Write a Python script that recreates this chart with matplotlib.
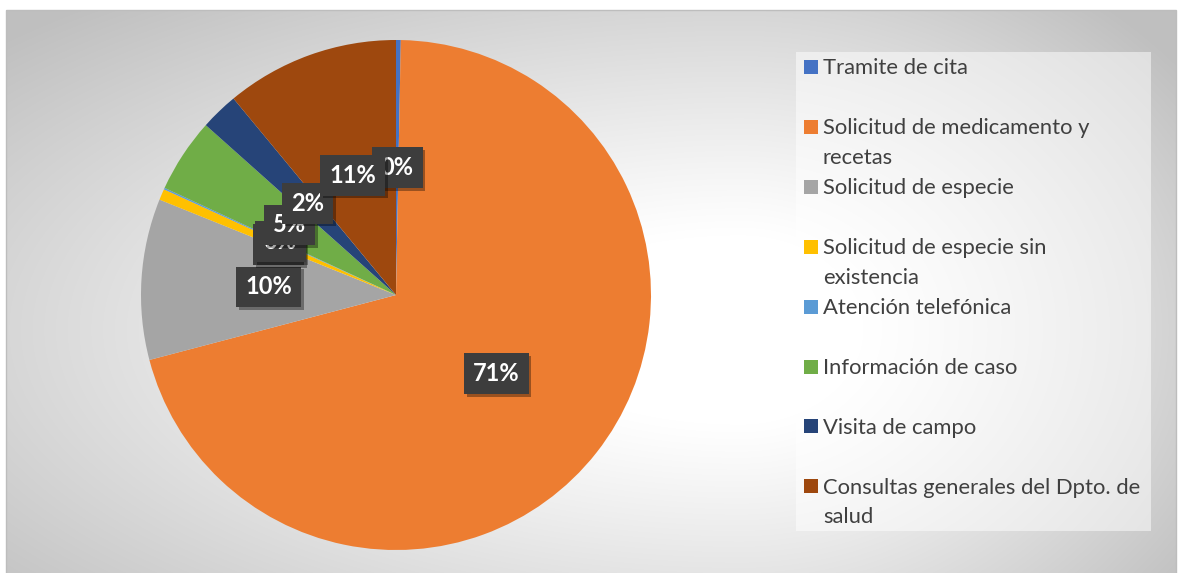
import numpy as np
import matplotlib
matplotlib.use("Agg")
import matplotlib.pyplot as plt
from matplotlib.patches import Rectangle
import matplotlib.patheffects as pe

# ---- data ----
categories = [
    "Tramite de cita",
    "Solicitud de medicamento y\nrecetas",
    "Solicitud de especie",
    "Solicitud de especie sin\nexistencia",
    "Atención telefónica",
    "Información de caso",
    "Visita de campo",
    "Consultas generales del Dpto. de\nsalud",
]
shares = [0.3, 70.6, 10.2, 0.7, 0.1, 4.7, 2.4, 11.0]
colors = ["#4472C4", "#ED7D31", "#A5A5A5", "#FFC000",
          "#5B9BD5", "#70AD47", "#264478", "#9E480E"]

W, H = 1182, 573
fig = plt.figure(figsize=(W / 100, H / 100), dpi=100)
fig.patch.set_facecolor("white")

# ---- background (pixel coordinates, y down) ----
bg = fig.add_axes([0, 0, 1, 1])
bg.set_xlim(0, W)
bg.set_ylim(H, 0)
bg.axis("off")

x0, x1, y0, y1 = 6, 1176, 10, 573
xx, yy = np.meshgrid(np.arange(x0, x1) + 0.5, np.arange(y0, y1) + 0.5)
cx, cy = 740, 330
axl, axr, ay = 1000, 560, 430
sx = np.where(xx < cx, (xx - cx) / axl, (xx - cx) / axr)
d = np.sqrt(sx ** 2 + ((yy - cy) / ay) ** 2)
t = np.clip((d - 0.22) / 0.78, 0, 1) ** 1.1
v = 1.0 - t * (1.0 - 0.75)
img = np.dstack([v, v, v])
bg.imshow(img, extent=(x0, x1, y1, y0), aspect="auto", interpolation="bilinear", zorder=0)
bg.add_patch(Rectangle((x0, y0), x1 - x0, y1 - y0 + 5, fill=False,
                       edgecolor="#bdbdbd", linewidth=1.0, zorder=1))

# ---- pie ----
pcx, pcy, R = 396, 295, 255
pax = fig.add_axes([(pcx - R) / W, (H - pcy - R) / H, 2 * R / W, 2 * R / H])
wedges, texts, autotexts = pax.pie(
    shares, colors=colors, startangle=90, counterclock=False,
    autopct="%.0f%%", pctdistance=0.5, radius=1.0,
    wedgeprops=dict(linewidth=0),
    textprops=dict(color="white", fontsize=17, fontweight="bold", family="Lato"),
)
pax.set_xlim(-1, 1)
pax.set_ylim(-1, 1)
pax.set_aspect("equal")
pax.axis("off")
for at in autotexts:
    at.set_bbox(dict(boxstyle="square,pad=0.38", facecolor="#3d3d3d", edgecolor="none"))
    at.get_bbox_patch().set_path_effects([
        pe.SimplePatchShadow(offset=(2, -2), shadow_rgbFace="black", alpha=0.35),
        pe.Normal()])

# ---- legend ----
bg.add_patch(Rectangle((796, 52), 355, 479, facecolor="white", alpha=0.5,
                       edgecolor="none", zorder=2))
first_y = 67
slot = 59.9
line_h = 29.5
for i, (lab, col) in enumerate(zip(categories, colors)):
    yc = first_y + i * slot
    bg.add_patch(Rectangle((804, yc - 7), 14, 14, facecolor=col, edgecolor="none", zorder=3))
    for j, line in enumerate(lab.split("\n")):
        bg.text(823, yc + j * line_h + 7.5, line, fontsize=15.8, family="Lato",
                color="#404040", va="baseline", ha="left", zorder=3)

fig.savefig("out.png", dpi=100)
